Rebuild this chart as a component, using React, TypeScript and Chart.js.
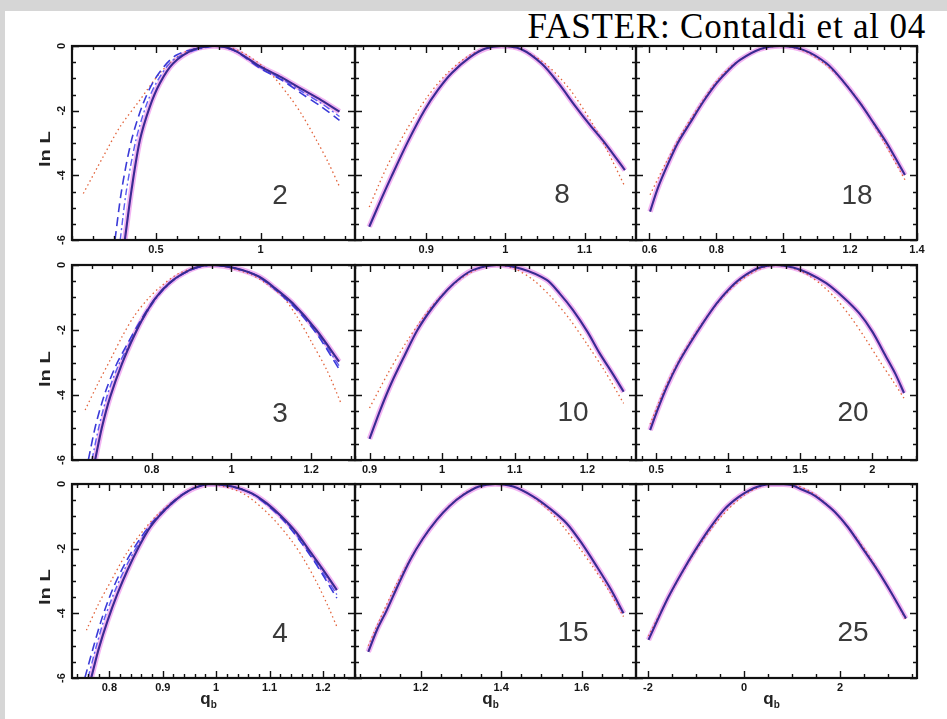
import React, { useEffect, useRef } from "react";
import { Chart, registerables } from "chart.js";

Chart.register(...registerables);

type Pt = [number, number];

// ---- shared y axis (ln L) ----
const LNL_RANGE = [-6, 0];
const LNL_TICKS = [-6, -4, -2, 0];
const LNL_MINOR = 0.5;

// ---- panel "2" ----
const P2_RANGE = [0.1, 1.45];
const P2_TICKS = [0.5, 1];
const P2_MINOR = 0.1;
const P2_SOLID: Pt[] = [[0.352,-6],[0.384,-4.45],[0.424,-2.91],[0.471,-1.88],[0.519,-1.15],[0.582,-0.54],[0.678,-0.12],[0.78,0],[0.87,-0.12],[1.0,-0.64],[1.1,-0.97],[1.19,-1.31],[1.29,-1.68],[1.376,-2.03]];
const P2_DASHED: Pt[] = [[0.305,-6],[0.337,-4.45],[0.384,-2.91],[0.44,-1.77],[0.503,-0.95],[0.599,-0.28],[0.77,0],[0.87,-0.13],[1.0,-0.7],[1.1,-1.05],[1.19,-1.45],[1.29,-1.88],[1.376,-2.3]];
const P2_DASHDOT: Pt[] = [[0.33,-6],[0.36,-4.45],[0.405,-2.91],[0.455,-1.82],[0.51,-1.05],[0.59,-0.4],[0.775,0],[0.87,-0.12],[1.0,-0.67],[1.1,-1.02],[1.19,-1.38],[1.29,-1.78],[1.376,-2.18]];
const P2_GAUSS: Pt[] = [[0.154,-4.56],[0.249,-3.42],[0.329,-2.5],[0.424,-1.67],[0.519,-0.84],[0.614,-0.28],[0.7,-0.05],[0.78,0],[0.86,-0.06],[0.94,-0.3],[1.04,-0.8],[1.138,-1.57],[1.2,-2.16],[1.265,-2.9],[1.32,-3.57],[1.376,-4.35]];

// ---- panel "8" ----
const P8_RANGE = [0.81, 1.165];
const P8_TICKS = [0.9, 1, 1.1];
const P8_MINOR = 0.02;
const P8_SOLID: Pt[] = [[0.828,-5.59],[0.842,-4.8],[0.856,-4.04],[0.877,-2.95],[0.898,-1.98],[0.915,-1.35],[0.932,-0.84],[0.955,-0.35],[0.975,-0.08],[0.995,0],[1.02,-0.1],[1.046,-0.55],[1.067,-1.15],[1.088,-1.85],[1.107,-2.45],[1.126,-3.01],[1.151,-3.84]];
const P8_GAUSS: Pt[] = [[0.828,-4.98],[0.85,-3.75],[0.875,-2.6],[0.9,-1.62],[0.925,-0.88],[0.95,-0.36],[0.975,-0.07],[0.995,0],[1.02,-0.11],[1.05,-0.54],[1.08,-1.3],[1.11,-2.4],[1.13,-3.3],[1.151,-4.35]];

// ---- panel "18" ----
const P18_RANGE = [0.56, 1.4];
const P18_TICKS = [0.6, 0.8, 1, 1.2, 1.4];
const P18_MINOR = 0.05;
const P18_SOLID: Pt[] = [[0.602,-5.12],[0.625,-4.4],[0.652,-3.73],[0.685,-3.0],[0.721,-2.39],[0.76,-1.74],[0.801,-1.15],[0.837,-0.74],[0.871,-0.43],[0.93,-0.1],[0.99,0],[1.06,-0.12],[1.13,-0.54],[1.18,-1.1],[1.23,-1.77],[1.27,-2.38],[1.31,-3.01],[1.364,-3.99]];
const P18_GAUSS: Pt[] = [[0.602,-4.6],[0.65,-3.6],[0.7,-2.65],[0.75,-1.84],[0.8,-1.1],[0.85,-0.58],[0.92,-0.15],[0.99,0],[1.06,-0.15],[1.12,-0.52],[1.18,-1.1],[1.24,-1.9],[1.3,-2.95],[1.364,-4.14]];

// ---- panel "3" ----
const P3_RANGE = [0.6, 1.31];
const P3_TICKS = [0.8, 1, 1.2];
const P3_MINOR = 0.05;
const P3_SOLID: Pt[] = [[0.658,-6],[0.675,-5.0],[0.696,-4.05],[0.725,-3.05],[0.755,-2.2],[0.782,-1.55],[0.812,-0.98],[0.845,-0.55],[0.879,-0.26],[0.915,-0.06],[0.95,0],[1.01,-0.1],[1.07,-0.36],[1.11,-0.72],[1.154,-1.18],[1.213,-2.0],[1.27,-2.97]];
const P3_DASHED: Pt[] = [[0.641,-6],[0.66,-4.9],[0.684,-3.9],[0.71,-3.1],[0.738,-2.45],[0.77,-1.75],[0.81,-1.0],[0.85,-0.5],[0.9,-0.14],[0.95,0],[1.01,-0.1],[1.07,-0.38],[1.154,-1.25],[1.213,-2.1],[1.27,-3.2]];
const P3_DASHDOT: Pt[] = [[0.65,-6],[0.668,-4.95],[0.69,-3.95],[0.716,-3.1],[0.745,-2.4],[0.776,-1.7],[0.813,-1.0],[0.852,-0.5],[0.9,-0.14],[0.95,0],[1.01,-0.1],[1.07,-0.37],[1.154,-1.22],[1.213,-2.05],[1.27,-3.1]];
const P3_GAUSS: Pt[] = [[0.633,-4.46],[0.665,-3.65],[0.696,-2.92],[0.725,-2.22],[0.755,-1.59],[0.79,-1.05],[0.822,-0.67],[0.87,-0.25],[0.95,0],[1.04,-0.25],[1.085,-0.55],[1.13,-1.0],[1.165,-1.6],[1.2,-2.35],[1.24,-3.25],[1.275,-4.26]];

// ---- panel "10" ----
const P10_RANGE = [0.88, 1.267];
const P10_TICKS = [0.9, 1, 1.1, 1.2];
const P10_MINOR = 0.02;
const P10_SOLID: Pt[] = [[0.9,-5.35],[0.915,-4.45],[0.93,-3.64],[0.948,-2.8],[0.966,-2.0],[0.987,-1.3],[1.007,-0.77],[1.025,-0.4],[1.043,-0.15],[1.075,0],[1.11,-0.12],[1.144,-0.46],[1.162,-0.88],[1.18,-1.38],[1.2,-2.05],[1.217,-2.72],[1.235,-3.35],[1.25,-3.9]];
const P10_GAUSS: Pt[] = [[0.9,-4.4],[0.925,-3.35],[0.95,-2.4],[0.975,-1.58],[1.0,-0.92],[1.025,-0.43],[1.05,-0.12],[1.075,0],[1.1,-0.12],[1.125,-0.45],[1.15,-0.98],[1.175,-1.65],[1.2,-2.45],[1.225,-3.3],[1.25,-4.26]];

// ---- panel "20" ----
const P20_RANGE = [0.36, 2.31];
const P20_TICKS = [0.5, 1, 1.5, 2];
const P20_MINOR = 0.1;
const P20_SOLID: Pt[] = [[0.458,-5.08],[0.51,-4.45],[0.574,-3.75],[0.65,-3.05],[0.735,-2.41],[0.83,-1.75],[0.92,-1.18],[1.01,-0.72],[1.104,-0.36],[1.22,-0.08],[1.33,0],[1.45,-0.08],[1.56,-0.26],[1.68,-0.56],[1.8,-1.0],[1.91,-1.49],[2.0,-2.05],[2.095,-2.82],[2.16,-3.35],[2.22,-3.94]];
const P20_GAUSS: Pt[] = [[0.458,-4.9],[0.55,-3.9],[0.65,-3.0],[0.75,-2.25],[0.85,-1.6],[0.95,-1.05],[1.05,-0.6],[1.15,-0.28],[1.25,-0.07],[1.33,0],[1.45,-0.1],[1.55,-0.3],[1.65,-0.62],[1.75,-1.05],[1.85,-1.6],[1.95,-2.25],[2.05,-2.95],[2.14,-3.55],[2.22,-4.1]];

// ---- panel "4" ----
const P4_RANGE = [0.73, 1.26];
const P4_TICKS = [0.8, 0.9, 1, 1.1, 1.2];
const P4_MINOR = 0.02;
const P4_SOLID: Pt[] = [[0.766,-6],[0.78,-5.1],[0.797,-4.21],[0.815,-3.4],[0.834,-2.66],[0.855,-1.95],[0.877,-1.32],[0.905,-0.78],[0.932,-0.39],[0.96,-0.12],[0.99,0],[1.03,-0.08],[1.067,-0.29],[1.095,-0.6],[1.122,-1.0],[1.15,-1.5],[1.178,-2.14],[1.2,-2.65],[1.226,-3.28]];
const P4_DASHED: Pt[] = [[0.754,-6],[0.77,-5.05],[0.785,-4.21],[0.805,-3.3],[0.828,-2.5],[0.855,-1.75],[0.885,-1.1],[0.93,-0.4],[0.96,-0.12],[0.99,0],[1.03,-0.08],[1.067,-0.3],[1.122,-1.05],[1.178,-2.25],[1.226,-3.53]];
const P4_DASHDOT: Pt[] = [[0.76,-6],[0.775,-5.05],[0.79,-4.2],[0.81,-3.32],[0.832,-2.52],[0.858,-1.77],[0.888,-1.1],[0.932,-0.4],[0.96,-0.12],[0.99,0],[1.03,-0.08],[1.067,-0.3],[1.122,-1.02],[1.178,-2.2],[1.226,-3.42]];
const P4_GAUSS: Pt[] = [[0.757,-4.52],[0.78,-3.7],[0.804,-2.97],[0.83,-2.2],[0.859,-1.53],[0.89,-0.95],[0.93,-0.4],[0.96,-0.1],[0.99,0],[1.05,-0.29],[1.1,-0.96],[1.141,-1.75],[1.165,-2.35],[1.19,-3.1],[1.21,-3.8],[1.226,-4.41]];

// ---- panel "15" ----
const P15_RANGE = [1.037, 1.735];
const P15_TICKS = [1.2, 1.4, 1.6];
const P15_MINOR = 0.05;
const P15_SOLID: Pt[] = [[1.07,-5.19],[1.092,-4.5],[1.116,-3.9],[1.145,-3.1],[1.174,-2.35],[1.205,-1.7],[1.24,-1.11],[1.272,-0.68],[1.306,-0.34],[1.345,-0.08],[1.385,0],[1.43,-0.08],[1.48,-0.39],[1.52,-0.75],[1.563,-1.22],[1.6,-1.83],[1.638,-2.56],[1.672,-3.25],[1.704,-4.0]];
const P15_GAUSS: Pt[] = [[1.07,-5.0],[1.1,-4.15],[1.14,-3.1],[1.18,-2.2],[1.22,-1.45],[1.26,-0.82],[1.3,-0.37],[1.34,-0.09],[1.385,0],[1.43,-0.09],[1.47,-0.32],[1.51,-0.72],[1.55,-1.25],[1.59,-1.9],[1.63,-2.6],[1.67,-3.35],[1.704,-4.1]];

// ---- panel "25" ----
const P25_RANGE = [-2.25, 3.6];
const P25_TICKS = [-2, 0, 2];
const P25_MINOR = 0.5;
const P25_SOLID: Pt[] = [[-1.99,-4.82],[-1.8,-4.2],[-1.57,-3.48],[-1.3,-2.75],[-1.01,-2.03],[-0.72,-1.38],[-0.42,-0.8],[-0.2,-0.5],[0,-0.29],[0.25,-0.1],[0.5,-0.01],[0.75,0],[1.0,-0.04],[1.2,-0.17],[1.4,-0.3],[1.6,-0.5],[1.9,-0.88],[2.16,-1.33],[2.45,-1.95],[2.78,-2.67],[3.08,-3.4],[3.37,-4.16]];
const P25_GAUSS: Pt[] = [[-1.99,-4.7],[-1.5,-3.3],[-1.0,-2.05],[-0.5,-1.05],[0,-0.35],[0.4,-0.05],[0.75,0],[1.1,-0.05],[1.5,-0.35],[2.0,-1.05],[2.5,-2.0],[3.0,-3.2],[3.37,-4.2]];

const PANEL_LABELS = ["2", "8", "18", "3", "10", "20", "4", "15", "25"];

type PanelCfg = {
  range: number[];
  ticks: number[];
  minor: number;
  solid: Pt[];
  dashed?: Pt[];
  dashdot?: Pt[];
  gauss: Pt[];
};

const PANELS: PanelCfg[] = [
  { range: P2_RANGE, ticks: P2_TICKS, minor: P2_MINOR, solid: P2_SOLID, dashed: P2_DASHED, dashdot: P2_DASHDOT, gauss: P2_GAUSS },
  { range: P8_RANGE, ticks: P8_TICKS, minor: P8_MINOR, solid: P8_SOLID, gauss: P8_GAUSS },
  { range: P18_RANGE, ticks: P18_TICKS, minor: P18_MINOR, solid: P18_SOLID, gauss: P18_GAUSS },
  { range: P3_RANGE, ticks: P3_TICKS, minor: P3_MINOR, solid: P3_SOLID, dashed: P3_DASHED, dashdot: P3_DASHDOT, gauss: P3_GAUSS },
  { range: P10_RANGE, ticks: P10_TICKS, minor: P10_MINOR, solid: P10_SOLID, gauss: P10_GAUSS },
  { range: P20_RANGE, ticks: P20_TICKS, minor: P20_MINOR, solid: P20_SOLID, gauss: P20_GAUSS },
  { range: P4_RANGE, ticks: P4_TICKS, minor: P4_MINOR, solid: P4_SOLID, dashed: P4_DASHED, dashdot: P4_DASHDOT, gauss: P4_GAUSS },
  { range: P15_RANGE, ticks: P15_TICKS, minor: P15_MINOR, solid: P15_SOLID, gauss: P15_GAUSS },
  { range: P25_RANGE, ticks: P25_TICKS, minor: P25_MINOR, solid: P25_SOLID, gauss: P25_GAUSS },
];

// ---- layout (pixels) ----
const X_EDGES = [72, 355, 636, 917];
const Y_TOPS = [46, 265, 484];
const Y_BOTS = [240, 460, 678];
const ML = 50, MR = 30, MT = 30, MB = 30;

const NUM_POS: [number, number][] = [
  [280, 195], [562, 194], [857, 195],
  [280, 413], [573, 412], [853, 412],
  [280, 633], [573, 632], [853, 632],
];

const TICK_FONT = { family: '"Liberation Sans", Arial, sans-serif', size: 11, weight: "bold" as const };

function stepValues(min: number, max: number, step: number) {
  const out: number[] = [];
  const a = Math.ceil(min / step - 1e-9);
  const b = Math.floor(max / step + 1e-9);
  for (let k = a; k <= b; k++) out.push(+(k * step).toFixed(6));
  return out;
}

// frame + inward major/minor ticks on all four sides, positioned through the chart's scales
const frameTicks = {
  id: "frameTicks",
  afterDatasetsDraw(chart: any, _args: any, opts: any) {
    const { ctx, chartArea: a, scales } = chart;
    const sx = scales.x;
    const sy = scales.y;
    ctx.save();
    ctx.strokeStyle = "#101010";
    ctx.lineWidth = 1.4;
    ctx.beginPath();
    const vtick = (vals: number[], len: number) => {
      for (const v of vals) {
        const px = Math.round(sx.getPixelForValue(v)) + 0.5;
        ctx.moveTo(px, a.bottom);
        ctx.lineTo(px, a.bottom - len);
        ctx.moveTo(px, a.top);
        ctx.lineTo(px, a.top + len);
      }
    };
    const htick = (vals: number[], len: number) => {
      for (const v of vals) {
        const py = Math.round(sy.getPixelForValue(v)) + 0.5;
        ctx.moveTo(a.left, py);
        ctx.lineTo(a.left + len, py);
        ctx.moveTo(a.right, py);
        ctx.lineTo(a.right - len, py);
      }
    };
    vtick(opts.xMinor, 4);
    vtick(opts.xMajor, 7);
    htick(opts.yMinor, 4);
    htick(opts.yMajor, 7);
    ctx.stroke();
    ctx.lineWidth = 2.2;
    ctx.strokeStyle = "#111";
    ctx.strokeRect(a.left, a.top, a.right - a.left, a.bottom - a.top);
    ctx.restore();
  },
};

const HALO = { borderColor: "rgba(230,105,230,0.5)", borderWidth: 5.5 };
const SOLID = { borderColor: "#3a2a92", borderWidth: 2.1 };
const DASHED = { borderColor: "#3a3ad8", borderWidth: 1.6, borderDash: [9, 5] };
const DASHDOT = { borderColor: "#5c5cf0", borderWidth: 1.4, borderDash: [7, 3, 2, 3] };
const GAUSS = { borderColor: "#e2643c", borderWidth: 1.3, borderDash: [1.5, 3] };

function ds(points: Pt[], style: any, order: number) {
  return {
    data: points.map(([x, y]) => ({ x, y })),
    xAxisID: "x",
    yAxisID: "y",
    pointRadius: 0,
    fill: false,
    tension: 0.3,
    order,
    ...style,
  };
}

function Panel({ idx }: { idx: number }) {
  const ref = useRef<HTMLCanvasElement>(null);
  const col = idx % 3;
  const row = Math.floor(idx / 3);
  const pw = X_EDGES[col + 1] - X_EDGES[col];
  const ph = Y_BOTS[row] - Y_TOPS[row];
  const w = pw + ML + MR;
  const h = ph + MT + MB;

  useEffect(() => {
    const cfg = PANELS[idx];
    const [xmin, xmax] = cfg.range;
    const [ymin, ymax] = LNL_RANGE;
    const datasets: any[] = [ds(cfg.solid, SOLID, 0)];
    if (cfg.dashed) datasets.push(ds(cfg.dashed, DASHED, 1));
    if (cfg.dashdot) datasets.push(ds(cfg.dashdot, DASHDOT, 2));
    datasets.push(ds(cfg.gauss, GAUSS, 3));
    datasets.push(ds(cfg.solid, HALO, 4));

    const chart = new Chart(ref.current as HTMLCanvasElement, {
      type: "line",
      data: { datasets },
      plugins: [frameTicks],
      options: {
        responsive: false,
        maintainAspectRatio: false,
        devicePixelRatio: 1,
        animation: false,
        events: [],
        layout: { padding: { left: 0, top: MT, right: MR, bottom: 0 } },
        plugins: {
          legend: { display: false },
          tooltip: { enabled: false },
          title: { display: false },
          frameTicks: {
            xMajor: cfg.ticks,
            xMinor: stepValues(xmin, xmax, cfg.minor),
            yMajor: LNL_TICKS,
            yMinor: stepValues(ymin, ymax, LNL_MINOR),
          },
        },
        scales: {
          x: {
            type: "linear",
            position: "bottom",
            min: xmin,
            max: xmax,
            bounds: "data",
            afterBuildTicks: (s: any) => {
              s.ticks = cfg.ticks.map((v) => ({ value: v }));
            },
            grid: { display: false, drawTicks: false },
            border: { display: false },
            ticks: {
              display: true,
              autoSkip: false,
              maxRotation: 0,
              minRotation: 0,
              padding: 3,
              color: "#151515",
              font: TICK_FONT,
              callback: (v: number) => String(v),
            },
            afterFit: (s: any) => {
              s.height = MB;
            },
          },
          y: {
            type: "linear",
            position: "left",
            min: ymin,
            max: ymax,
            bounds: "data",
            afterBuildTicks: (s: any) => {
              s.ticks = LNL_TICKS.map((v) => ({ value: v }));
            },
            grid: { display: false, drawTicks: false },
            border: { display: false },
            ticks: {
              display: col === 0,
              autoSkip: false,
              minRotation: 90,
              maxRotation: 90,
              crossAlign: "center",
              padding: 5,
              color: "#151515",
              font: TICK_FONT,
              callback: (v: number) => String(v),
            },
            afterFit: (s: any) => {
              s.width = ML;
            },
          },
        } as any,
      },
    } as any);
    return () => chart.destroy();
  }, [idx]);

  return (
    <canvas
      ref={ref}
      width={w}
      height={h}
      style={{ position: "absolute", left: X_EDGES[col] - ML, top: Y_TOPS[row] - MT, width: w, height: h }}
    />
  );
}

export default function App() {
  const colCenters = [0, 1, 2].map((c) => (X_EDGES[c] + X_EDGES[c + 1]) / 2);
  return (
    <div
      style={{
        position: "absolute",
        left: 0,
        top: 0,
        width: 947,
        height: 719,
        background: "#ffffff",
        overflow: "hidden",
      }}
    >
      <div style={{ position: "absolute", left: 0, top: 0, width: 947, height: 11, background: "#d6d6d6" }} />
      <div style={{ position: "absolute", left: 0, top: 0, width: 5, height: 719, background: "#d6d6d6" }} />
      <div
        style={{
          position: "absolute",
          right: 21,
          top: 9,
          fontFamily: '"Liberation Serif", "Times New Roman", serif',
          fontSize: 35,
          lineHeight: "35px",
          letterSpacing: "0.8px",
          color: "#000",
          whiteSpace: "nowrap",
        }}
      >
        FASTER: Contaldi et al 04
      </div>

      {PANELS.map((_, i) => (
        <Panel key={i} idx={i} />
      ))}

      {PANEL_LABELS.map((t, i) => (
        <div
          key={"n" + i}
          style={{
            position: "absolute",
            left: NUM_POS[i][0],
            top: NUM_POS[i][1],
            transform: "translate(-50%, -50%)",
            fontFamily: '"Liberation Sans", Arial, sans-serif',
            fontSize: 28,
            lineHeight: "28px",
            color: "#3a3a3a",
            whiteSpace: "nowrap",
          }}
        >
          {t}
        </div>
      ))}

      {[0, 1, 2].map((r) => (
        <div
          key={"ln" + r}
          style={{
            position: "absolute",
            left: 44,
            top: (Y_TOPS[r] + Y_BOTS[r]) / 2 + 6,
            transform: "translate(-50%, -50%) rotate(-90deg) scaleX(1.35)",
            fontFamily: '"Liberation Sans", Arial, sans-serif',
            fontWeight: "bold",
            fontSize: 15,
            lineHeight: "15px",
            color: "#222",
            whiteSpace: "nowrap",
          }}
        >
          ln L
        </div>
      ))}

      {colCenters.map((cx, c) => (
        <div
          key={"q" + c}
          style={{
            position: "absolute",
            left: cx - 5,
            top: 699,
            transform: "translate(-50%, -50%)",
            fontFamily: '"Liberation Sans", Arial, sans-serif',
            fontWeight: "bold",
            fontSize: 17,
            lineHeight: "17px",
            color: "#222",
            whiteSpace: "nowrap",
          }}
        >
          q<span style={{ fontSize: 10, position: "relative", top: 4 }}>b</span>
        </div>
      ))}
    </div>
  );
}
